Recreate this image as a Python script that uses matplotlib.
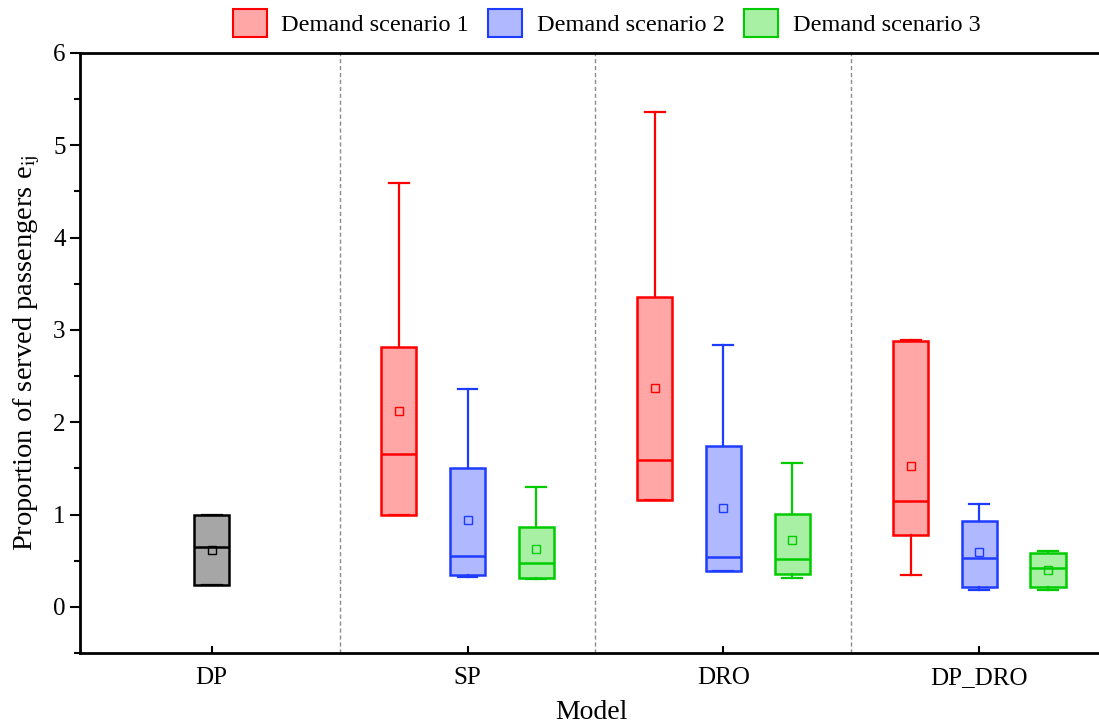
import matplotlib
matplotlib.use("Agg")
import matplotlib.pyplot as plt
from matplotlib.patches import Patch

plt.rcParams['font.family'] = ['Liberation Serif', 'DejaVu Serif']
plt.rcParams['mathtext.fontset'] = 'stix'

# Data (per model, per demand scenario)
models = ["DP", "SP", "DRO", "DP_DRO"]
scenarios = ["Demand scenario 1", "Demand scenario 2", "Demand scenario 3"]

# DP has a single (deterministic) box
dp_stats = dict(whislo=0.24, q1=0.24, med=0.65, q3=1.00, whishi=1.00, mean=0.62)

# rows: SP, DRO, DP_DRO ; columns: scenario 1, 2, 3
whis_low = [[1.00, 0.32, 0.30], [1.16, 0.39, 0.31], [0.35, 0.18, 0.18]]
q1_vals = [[1.00, 0.34, 0.31], [1.16, 0.39, 0.36], [0.78, 0.21, 0.21]]
medians = [[1.66, 0.55, 0.48], [1.59, 0.54, 0.52], [1.15, 0.53, 0.42]]
q3_vals = [[2.81, 1.50, 0.87], [3.36, 1.74, 1.01], [2.88, 0.93, 0.58]]
whis_high = [[4.59, 2.36, 1.30], [5.36, 2.84, 1.56], [2.89, 1.11, 0.61]]
means = [[2.12, 0.94, 0.63], [2.37, 1.07, 0.72], [1.53, 0.59, 0.40]]

edge_colors = ["#FF0000", "#1E3CFF", "#00CC00"]
fill_colors = ["#FFA6A6", "#B0B8FF", "#A8F0A4"]

fig = plt.figure(figsize=(10.99, 7.24), dpi=100)
ax = fig.add_axes([0.073, 0.098, 0.93, 0.829])

box_w = 0.137
cap_w = 0.078
offset = 0.268


def draw(stats, pos, ec, fc):
    ax.bxp([stats], positions=[pos], widths=box_w, capwidths=[cap_w],
           showmeans=True, meanline=False, showfliers=False, patch_artist=True,
           boxprops=dict(facecolor=fc, edgecolor=ec, linewidth=1.8),
           medianprops=dict(color=ec, linewidth=1.8),
           whiskerprops=dict(color=ec, linewidth=1.6),
           capprops=dict(color=ec, linewidth=1.6),
           meanprops=dict(marker="s", markersize=5.5, markerfacecolor="none",
                          markeredgecolor=ec, markeredgewidth=1.0),
           manage_ticks=False)


draw(dict(dp_stats, label="DP"), 0, "black", "#A6A6A6")

for i in range(3):
    for j in range(3):
        st = dict(whislo=whis_low[i][j], q1=q1_vals[i][j], med=medians[i][j],
                  q3=q3_vals[i][j], whishi=whis_high[i][j], mean=means[i][j],
                  label=models[i + 1])
        draw(st, (i + 1) + (j - 1) * offset, edge_colors[j], fill_colors[j])

for xd in [0.5, 1.5, 2.5]:
    ax.axvline(xd, color="#8C8C8C", linestyle=(0, (3, 2)), linewidth=1.0, zorder=0)

ax.set_xlim(-0.513, 3.48)
ax.set_ylim(-0.5, 6)
ax.set_xticks(range(len(models)))
ax.set_xticklabels(models)
ax.set_yticks(range(0, 7))
ax.set_yticks([k + 0.5 for k in range(-1, 6)], minor=True)

ax.tick_params(axis="x", direction="in", length=5, width=1.5, labelsize=18, pad=10)
ax.tick_params(axis="y", which="major", direction="out", length=7, width=1.5, labelsize=18)
ax.tick_params(axis="y", which="minor", direction="out", length=4, width=1.5)
for s in ax.spines.values():
    s.set_linewidth(2.0)
ax.spines["right"].set_visible(False)

ax.set_xlabel("Model", fontsize=20, labelpad=8)
ax.set_ylabel("Proportion of served passengers e$_{\\mathrm{ij}}$", fontsize=20.5, labelpad=8)

handles = [Patch(facecolor=fill_colors[k], edgecolor=edge_colors[k], linewidth=1.5,
                 label=scenarios[k]) for k in range(3)]
ax.legend(handles=handles, loc="lower center", bbox_to_anchor=(0.515, 0.99), ncol=3,
          frameon=False, fontsize=17.5, handlelength=1.4, handleheight=1.4,
          columnspacing=0.8, handletextpad=0.6)

fig.savefig("out.png", dpi=100)
